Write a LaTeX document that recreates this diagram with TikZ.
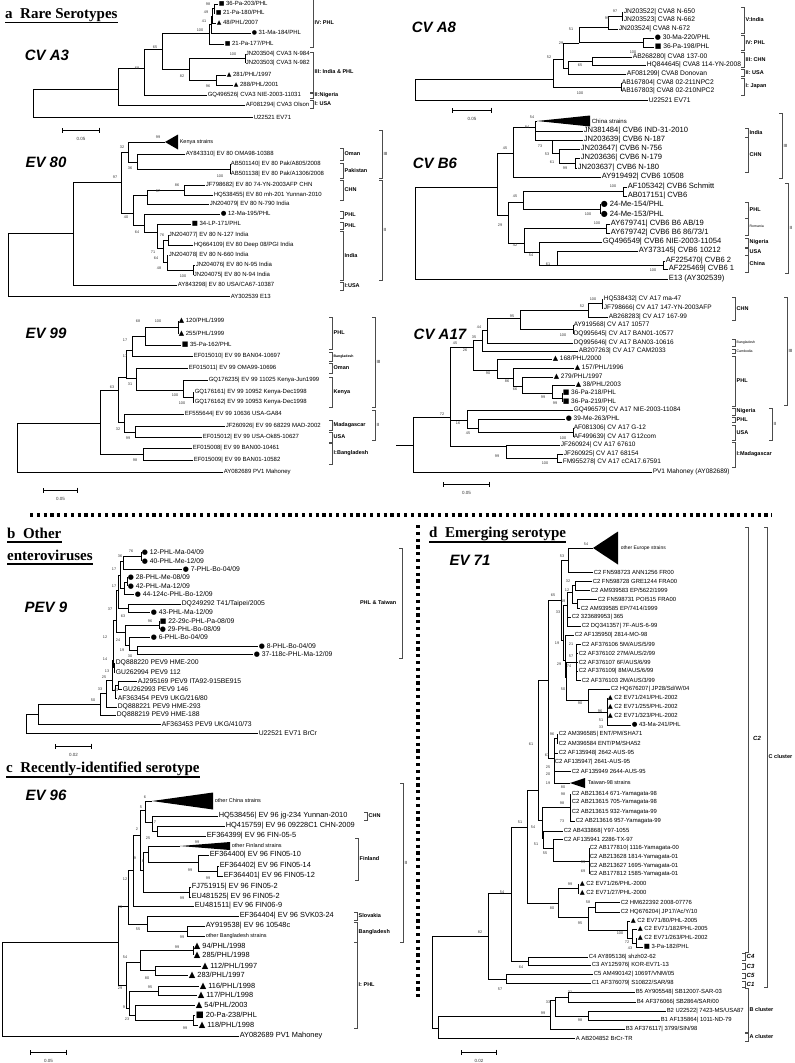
\documentclass[tikz,border=0pt]{standalone}
\usepackage{fontspec}
\setmainfont{Liberation Sans}
\newfontfamily\ser{Liberation Serif}
\newfontfamily\sym{DejaVu Sans}
\usetikzlibrary{arrows.meta}
\newcounter{nc}
\newcommand\fs[1]{\fontsize{#1}{#1}\selectfont}
\def\msz{6}
\newcommand\mtri{{\sym\fs{\msz}▲}}
\newcommand\mcir{{\sym\fs{\msz}●}}
\newcommand\msq{{\sym\fs{\msz}■}}
\newcommand\E[2]{\foreach \ch in {#2}{\draw[br] (#1) |- (\ch);}}
\newcommand\lf[4][]{\node[lab,#1] (#2) at (#3) {#4};}
\newcommand\bs[2]{\stepcounter{nc}\node[bsl] (bs\arabic{nc}) at (#1) {#2};}
\newcommand\brk[5][]{\stepcounter{nc}\draw[brk] (#2-3,#3) -- (#2,#3) -- (#2,#4) -- (#2-3,#4);\node[brl,#1] (br\arabic{nc}) at (#2+1.5,{(#3+#4)/2}) {#5};}
\newcommand\clade[4]{\coordinate (#1) at (#2);\fill (#1) -- ++(#3,-#4) -- ++(0,2*#4) -- cycle;}
\newcommand\sbar[4]{\stepcounter{nc}\draw[br,{Bar[width=5pt]}-{Bar[width=5pt]}] (#1,#3) -- (#2,#3);\node[bsl,font=\fs{4.5}] (sb\arabic{nc}) at ({(#1+#2)/2},#3+9) {#4};}
\tikzset{
 br/.style={draw=black,line width=0.85pt},
 lab/.style={anchor=west,inner sep=0.6pt,font=\fs{6}},
 bsl/.style={inner sep=0pt,font=\fs{3.8},text=black!80},
 brk/.style={draw=black!70,line width=0.7pt},
 brl/.style={anchor=west,inner sep=0pt,font=\bfseries\fs{5.5}},
 tname/.style={font=\bfseries\itshape\fs{15}},
 ttl/.style={anchor=base west,inner sep=0pt,font=\ser\bfseries\fs{15}},
 ul/.style={line width=1.3pt},
 dotsep/.style={line width=3.2pt,dash pattern=on 3.2pt off 3.6pt},
}
\begin{document}
\begin{tikzpicture}[x=1pt,y=-1pt]
\useasboundingbox (0,0) rectangle (795,1063);
\fill[white] (0,0) rectangle (795,1063);
% ---------- titles ----------
\node[ttl] (ta) at (5,18.5) {a\ \ Rare Serotypes};
\draw[ul] ([yshift=-4pt]ta.base west) -- ([yshift=-4pt]ta.base east);
\node[ttl] (tb) at (7,538.5) {b\ \ Other};
\draw[ul] ([yshift=-3.5pt]tb.base west) -- ([yshift=-3.5pt]tb.base east);
\node[ttl] (tb2) at (7,560.5) {enteroviruses};
\draw[ul] ([yshift=-3.5pt]tb2.base west) -- ([yshift=-3.5pt]tb2.base east);
\node[ttl] (tc) at (6,772) {c\ \ Recently-identified serotype};
\draw[ul] ([yshift=-5pt]tc.base west) -- ([yshift=-5pt]tc.base east);
\node[ttl] (td) at (429,537) {d\ \ Emerging serotype};
\draw[ul] ([yshift=-5pt]td.base west) -- ([yshift=-5pt]td.base east);
\node[tname] (nA3) at (47,55) {CV A3};
\node[tname] (nA8) at (434,27) {CV A8};
\node[tname] (n80) at (46,162) {EV 80};
\node[tname] (nB6) at (435,163) {CV B6};
\node[tname] (n99) at (46,333) {EV 99};
\node[tname] (nA17) at (440,334) {CV A17};
\node[tname] (nP9) at (46,607) {PEV 9};
\node[tname] (n96) at (46,795) {EV 96};
\node[tname] (n71) at (470,560) {EV 71};
% separators
\draw[dotsep] (30,515) -- (772,515);
\draw[dotsep] (418,525) -- (418,1000);

% ================= CV A3 =================
\begin{scope}[lab/.style={anchor=west,inner sep=0.6pt,font=\fs{6}}]
\def\msz{6}
\coordinate (a0) at (33,103);
\coordinate (a1) at (118,89);
\coordinate (a2) at (144,68);
\coordinate (a3) at (162,49);
\coordinate (a4) at (209,33);
\coordinate (a5) at (189,69);
\coordinate (a6) at (245,58);
\coordinate (a7) at (216,80);
\coordinate (a8) at (211,24);
\coordinate (a9) at (212,16);
\coordinate (a10) at (214,8);
\lf{aL1}{253,117}{U22521 EV71}
\lf{aL2}{245,105}{AF081294| CVA3 Olson}
\lf{aL3}{207,95}{GQ496526| CVA3 NIE-2003-11031}
\lf{aL4}{245,54}{JN203504| CVA3 N-984}
\lf{aL5}{245,63}{JN203503| CVA3 N-982}
\lf{aL6}{226,75}{\mtri\ 281/PHL/1997}
\lf{aL7}{233,85}{\mtri\ 288/PHL/2001}
\lf{aL8}{224,44}{\msq\ 21-Pa-177/PHL}
\lf{aL9}{251,33}{\mcir\ 31-Ma-184/PHL}
\lf{aL10}{216,23}{\mtri\ 48/PHL/2007}
\lf{aL11}{218,4}{\msq\ 36-Pa-203/PHL}
\lf{aL12}{215,13}{\msq\ 21-Pa-180/PHL}
\E{a0}{a1,aL1}\E{a1}{a2,aL2}\E{a2}{a3,aL3}\E{a3}{a4,a5}\E{a5}{a6,a7}
\E{a6}{aL4,aL5}\E{a7}{aL6,aL7}\E{a4}{a8,aL8}\E{a8}{a9,aL9}\E{a9}{a10,aL10}\E{a10}{aL11,aL12}
\bs{208,4}{98}\bs{206,12}{49}\bs{204,21}{41}\bs{200,30}{100}\bs{155,47}{65}\bs{137,68}{68}
\bs{233,54}{100}\bs{182,76}{82}\bs{208,86}{96}
\brk{313}{-2}{47}{IV: PHL}
\brk{313}{52}{92}{III: India \& PHL}
\brk{313}{93}{98}{II:Nigeria}
\brk{313}{100}{108}{I: USA}
\sbar{62}{100}{130}{0.05}
\end{scope}

% ================= CV A8 =================
\begin{scope}[lab/.style={anchor=west,inner sep=0.6pt,font=\fs{6.7}}]
\def\msz{7}
\coordinate (b0) at (415,89);
\coordinate (b1) at (553,79);
\coordinate (b2) at (563,59);
\coordinate (b2b) at (568,68);
\coordinate (b3) at (579,43);
\coordinate (b4) at (608,27);
\coordinate (b5) at (622,16);
\coordinate (b6) at (643,42);
\coordinate (b7) at (592,61);
\coordinate (b8) at (621,87);
\lf{bL1}{648,100}{U22521 EV71}
\lf{bL2}{623,12}{JN203522| CVA8 N-650}
\lf{bL3}{623,20}{JN203523| CVA8 N-662}
\lf{bL4}{618,29}{JN203524| CVA8 N-672}
\lf{bL5}{654,38}{\mcir\ 30-Ma-220/PHL}
\lf{bL6}{654,47}{\msq\ 36-Pa-198/PHL}
\lf{bL7}{632,57}{AB268280| CVA8 137-00}
\lf{bL8}{646,65}{HQ844645| CVA8 114-YN-2008}
\lf{bL9}{626,74}{AF081299| CVA8 Donovan}
\lf{bL10}{621,83}{AB167804| CVA8 02-211NPC2}
\lf{bL11}{621,91}{AB167803| CVA8 02-210NPC2}
\E{b0}{b1,bL1}\E{b1}{b2,b8}\E{b2}{b3,b2b}\E{b2b}{b7,bL9}\E{b7}{bL7,bL8}
\E{b3}{b4,b6}\E{b4}{b5,bL4}\E{b5}{bL2,bL3}\E{b6}{bL5,bL6}\E{b8}{bL10,bL11}
\bs{615,11}{97}\bs{607,18}{99}\bs{571,29}{51}\bs{561,43}{29}\bs{549,57}{52}\bs{580,65}{65}
\bs{633,52}{100}\bs{580,93}{100}
\brk{744}{7}{33}{V:India}
\brk{744}{35}{50}{IV: PHL}
\brk{744}{52}{67}{III: CHN}
\brk{744}{69}{76}{II: USA}
\brk{744}{78}{95}{I: Japan}
\sbar{452}{492}{110}{0.05}
\end{scope}

% ================= EV 80 =================
\begin{scope}[lab/.style={anchor=west,inner sep=0.6pt,font=\fs{6}}]
\def\msz{6.5}
\coordinate (c0) at (8,264);
\coordinate (c1) at (73,233);
\coordinate (c2) at (121,182);
\coordinate (ck) at (128,152);
\coordinate (com) at (137,162);
\coordinate (cpak) at (230,169);
\coordinate (c3) at (133,213);
\coordinate (ca) at (147,195);
\coordinate (cchn) at (184,190);
\coordinate (cb) at (144,225);
\coordinate (cc) at (157,232);
\coordinate (cd) at (163,248);
\coordinate (ce) at (168,240);
\coordinate (cf) at (167,262);
\coordinate (cg) at (193,270);
\clade{ck2}{165,142}{13}{7.5}
\lf[font=\fs{5.5}]{ckt}{179,142}{Kenya strains}
\lf{cL1}{230,296}{AY302539 E13}
\lf{cL2}{177,285}{AY843298| EV 80 USA/CA67-10387}
\lf{cL3}{185,154}{AY843310| EV 80 OMA98-10388}
\lf{cL4}{230,164}{AB501140| EV 80 Pak/A805/2008}
\lf{cL5}{230,174}{AB501138| EV 80 Pak/A1306/2008}
\lf{cL6}{205,185}{JF798682| EV 80 74-YN-2003AFP CHN}
\lf{cL7}{213,195}{HQ538455| EV 80 mh-201 Yunnan-2010}
\lf{cL8}{209,204}{JN204079| EV 80 N-790 India}
\lf{cL9}{220,214}{\mcir\ 12-Ma-195/PHL}
\lf{cL10}{191,224}{\msq\ 34-LP-171/PHL}
\lf{cL11}{168,235}{JN204077| EV 80 N-127 India}
\lf{cL12}{193,245}{HQ664109| EV 80 Deep 08/PGI India}
\lf{cL13}{168,255}{JN204078| EV 80 N-660 India}
\lf{cL14}{195,265}{JN204076| EV 80 N-95 India}
\lf{cL15}{193,275}{JN204075| EV 80 N-94 India}
\E{c0}{c1,cL1}\E{c1}{c2,cL2}\E{c2}{ck,c3}\E{ck}{ck2,com}\E{com}{cL3,cpak}\E{cpak}{cL4,cL5}
\E{c3}{ca,cb}\E{ca}{cchn,cL8}\E{cchn}{cL6,cL7}\E{cb}{cL9,cc}\E{cc}{cL10,cd}\E{cd}{ce,cf}
\E{ce}{cL11,cL12}\E{cf}{cL13,cg}\E{cg}{cL14,cL15}
\bs{158,137}{99}\bs{122,147}{32}\bs{130,168}{36}\bs{220,176}{100}\bs{115,177}{97}\bs{177,185}{86}
\bs{158,191}{97}\bs{126,217}{40}\bs{137,232}{64}\bs{153,252}{71}\bs{162,235}{76}\bs{156,258}{64}
\bs{159,268}{48}\bs{183,276}{100}
\brk{343}{148}{160}{Oman}
\brk{343}{163}{178}{Pakistan}
\brk{343}{180}{200}{CHN}
\brk{343}{211}{218}{PHL}
\brk{343}{222}{229}{PHL}
\brk{343}{231}{280}{India}
\brk{343}{282}{290}{I:USA}
\brk[font=\fs{4.5}]{382}{130}{178}{III}
\brk[font=\fs{4.5}]{382}{180}{280}{II}
\end{scope}

% ================= CV B6 =================
\begin{scope}[lab/.style={anchor=west,inner sep=0.6pt,font=\fs{7.6}}]
\def\msz{8}
\coordinate (d0) at (415,233);
\coordinate (d1) at (497,187);
\coordinate (d2) at (513,153);
\coordinate (d4) at (535,127);
\coordinate (d5) at (552,140);
\coordinate (d6) at (559,153);
\coordinate (d7) at (575,163);
\coordinate (d3) at (508,215);
\coordinate (d8) at (523,202);
\coordinate (d10) at (623,191);
\coordinate (dphl) at (600,209);
\coordinate (d9) at (524,243);
\coordinate (drom) at (606,228);
\coordinate (d11) at (539,252);
\coordinate (d12) at (557,265);
\coordinate (d13) at (663,265);
\clade{dc}{537,121}{53}{5.5}
\lf[font=\fs{6}]{dct}{591,121}{China strains}
\lf{dL1}{583,131}{JN381484| CVB6 IND-31-2010}
\lf{dL2}{583,140}{JN203639| CVB6 N-187}
\lf{dL3}{580,149}{JN203647| CVB6 N-756}
\lf{dL4}{580,158}{JN203636| CVB6 N-179}
\lf{dL5}{577,168}{JN203637| CVB6 N-180}
\lf{dL7}{601,177}{AY919492| CVB6 10508}
\lf{dL8}{627,187}{AF105342| CVB6 Schmitt}
\lf{dL9}{627,196}{AB017151| CVB6}
\lf{dL10}{600,204}{\mcir\ 24-Me-154/PHL}
\lf{dL11}{600,214}{\mcir\ 24-Me-153/PHL}
\lf{dL12}{610,224}{AY679741| CVB6 B6 AB/19}
\lf{dL13}{610,233}{AY679742| CVB6 B6 86/73/1}
\lf{dL14}{602,242}{GQ496549| CVB6 NIE-2003-11054}
\lf{dL15}{638,251}{AY373145| CVB6 10212}
\lf{dL16}{665,261}{AF225470| CVB6 2}
\lf{dL17}{668,269}{AF225469| CVB6 1}
\lf{dL18}{668,279}{E13 (AY302539)}
\E{d0}{d1,dL18}\E{d1}{d2,d3}\E{d2}{d4,dL7}\E{d4}{dc,dL1,d5}\E{d5}{dL2,d6}\E{d6}{dL3,d7}
\E{d7}{dL4,dL5}\E{d3}{d8,d9}\E{d8}{d10,dphl}\E{d10}{dL8,dL9}\E{dphl}{dL10,dL11}
\E{d9}{drom,d11}\E{drom}{dL12,dL13}\E{d11}{dL14,d12}\E{d12}{dL15,d13}\E{d13}{dL16,dL17}
\bs{532,117}{54}\bs{527,127}{84}\bs{505,148}{45}\bs{540,146}{73}\bs{547,154}{53}\bs{552,162}{61}
\bs{565,168}{99}\bs{613,186}{100}\bs{515,196}{45}\bs{588,214}{100}\bs{500,225}{29}\bs{597,223}{100}
\bs{515,245}{42}\bs{531,255}{54}\bs{548,264}{61}\bs{653,270}{100}
\brk{748}{128}{137}{India}
\brk{748}{137}{172}{CHN}
\brk{748}{202}{218}{PHL}
\brk[font=\fs{3.5}]{748}{218}{235}{Romania}
\brk{748}{238}{247}{Nigeria}
\brk{748}{248}{255}{USA}
\brk{748}{255}{272}{China}
\brk[font=\fs{4.5}]{782}{113}{178}{III}
\brk[font=\fs{4.5}]{788}{183}{273}{II}
\end{scope}

% ================= EV 99 =================
\begin{scope}[lab/.style={anchor=west,inner sep=0.6pt,font=\fs{6}}]
\def\msz{7}
\coordinate (f0) at (17,447);
\coordinate (f1) at (100,423);
\coordinate (f2) at (118,390);
\coordinate (f3) at (126,377);
\coordinate (f5) at (132,350);
\coordinate (fphl) at (145,336);
\coordinate (fphl2) at (178,327);
\coordinate (fkom) at (136,378);
\coordinate (fken) at (183,390);
\coordinate (fken2) at (193,397);
\coordinate (f4) at (124,422);
\coordinate (fmu) at (135,432);
\coordinate (fban) at (143,454);
\lf{fL1}{178,321}{\mtri\ 120/PHL/1999}
\lf{fL2}{178,334}{\mtri\ 255/PHL/1999}
\lf{fL3}{181,345}{\msq\ 35-Pa-162/PHL}
\lf{fL4}{193,356}{EF015010| EV 99 BAN04-10697}
\lf{fL5}{188,368}{EF015011| EV 99 OMA99-10696}
\lf{fL6}{208,380}{GQ176235| EV 99 11025 Kenya-Jun1999}
\lf{fL7}{194,392}{GQ176161| EV 99 10952 Kenya-Dec1998}
\lf{fL8}{194,402}{GQ176162| EV 99 10953 Kenya-Dec1998}
\lf{fL9}{184,414}{EF555644| EV 99 10636 USA-GA84}
\lf{fL10}{225,426}{JF260926| EV 99 68229 MAD-2002}
\lf{fL11}{202,437}{EF015012| EV 99 USA-Ok85-10627}
\lf{fL12}{192,448}{EF015008| EV 99 BAN00-10461}
\lf{fL13}{193,460}{EF015009| EV 99 BAN01-10582}
\lf{fL14}{223,472}{AY082689 PV1 Mahoney}
\E{f0}{f1,fL14}\E{f1}{f2,fban}\E{f2}{f3,f4}\E{f3}{f5,fkom}\E{f5}{fphl,fL4}\E{fphl}{fphl2,fL3}
\E{fphl2}{fL1,fL2}\E{fkom}{fL5,fken}\E{fken}{fL6,fken2}\E{fken2}{fL7,fL8}\E{f4}{fL9,fmu}
\E{fmu}{fL10,fL11}\E{fban}{fL12,fL13}
\bs{138,321}{68}\bs{158,321}{100}\bs{125,340}{17}\bs{125,356}{17}\bs{130,384}{31}\bs{175,395}{100}
\bs{182,403}{100}\bs{112,387}{63}\bs{118,429}{32}\bs{128,438}{99}\bs{135,460}{98}
\brk{332}{317}{349}{PHL}
\brk[font=\bfseries\fs{3.5}]{332}{352}{361}{Bangladesh}
\brk{332}{363}{373}{Oman}
\brk{332}{377}{407}{Kenya}
\brk{332}{420}{430}{Madagascar}
\brk{332}{432}{442}{USA}
\brk{332}{443}{464}{I:Bangladesh}
\brk[font=\fs{4.5}]{375}{317}{407}{III}
\brk[font=\fs{4.5}]{375}{410}{440}{II}
\sbar{43}{78}{490}{0.05}
\end{scope}

% ================= CV A17 =================
\begin{scope}[lab/.style={anchor=west,inner sep=0.6pt,font=\fs{6.5}}]
\def\msz{7}
\coordinate (e0s) at (396,445);
\coordinate (e0) at (413,445);
\coordinate (eX) at (450,417);
\coordinate (e26) at (473,347);
\coordinate (e35) at (482,340);
\coordinate (e44) at (487,330);
\coordinate (e95) at (520,318);
\coordinate (e52) at (588,310);
\coordinate (echn) at (602,303);
\coordinate (e100b) at (573,329);
\coordinate (ephl) at (497,370);
\coordinate (e86) at (513,378);
\coordinate (e66) at (522,386);
\coordinate (e99) at (552,393);
\coordinate (e99b) at (562,398);
\coordinate (e16) at (467,420);
\coordinate (e45b) at (478,428);
\coordinate (eusa) at (573,432);
\coordinate (emad) at (506,446);
\coordinate (emad2) at (557,458);
\lf{eL1}{603,299}{HQ538432| CV A17 ma-47}
\lf{eL2}{603,308}{JF798666| CV A17 147-YN-2003AFP}
\lf{eL3}{608,317}{AB268283| CV A17 167-99}
\lf{eL4}{573,325}{AY919568| CV A17 10577}
\lf{eL5}{573,334}{DQ995645| CV A17 BAN01-10577}
\lf{eL6}{573,343}{DQ995646| CV A17 BAN03-10616}
\lf{eL7}{578,351}{AB207263| CV A17 CAM2033}
\lf{eL8}{552,359}{\mtri\ 168/PHL/2000}
\lf{eL9}{574,368}{\mtri\ 157/PHL/1996}
\lf{eL10}{553,377}{\mtri\ 279/PHL/1997}
\lf{eL11}{575,385}{\mtri\ 38/PHL/2003}
\lf{eL12}{562,393}{\msq\ 36-Pa-218/PHL}
\lf{eL13}{562,402}{\msq\ 36-Pa-219/PHL}
\lf{eL14}{573,410}{GQ496579| CV A17 NIE-2003-11084}
\lf{eL15}{565,419}{\mcir\ 39-Me-263/PHL}
\lf{eL16}{573,428}{AF081306| CV A17 G-12}
\lf{eL17}{573,437}{AF499639| CV A17 G12com}
\lf{eL18}{560,445}{JF260924| CV A17 67610}
\lf{eL19}{563,454}{JF260925| CV A17 68154}
\lf{eL20}{562,462}{FM955278| CV A17 cCA17.67591}
\lf{eL21}{652,472}{PV1 Mahoney (AY082689)}
\draw[br] (e0s) -- (e0);
\E{e0}{eX,eL21}\E{eX}{e26,e16,emad}\E{e26}{e35,ephl}\E{e35}{e44,eL7}\E{e44}{e95,eL6}
\E{e95}{e52,e100b}\E{e52}{echn,eL3}\E{echn}{eL1,eL2}\E{e100b}{eL4,eL5}
\E{ephl}{eL8,e86}\E{e86}{eL9,e66}\E{e66}{eL10,e99}\E{e99}{eL11,e99b}\E{e99b}{eL12,eL13}
\E{e16}{eL14,e45b}\E{e45b}{eL15,eusa}\E{eusa}{eL16,eL17}\E{emad}{eL18,emad2}\E{emad2}{eL19,eL20}
\bs{593,299}{100}\bs{582,306}{52}\bs{512,316}{95}\bs{563,335}{100}\bs{479,327}{44}\bs{474,337}{35}
\bs{465,350}{26}\bs{455,343}{45}\bs{488,373}{90}\bs{507,381}{86}\bs{515,389}{66}\bs{543,397}{99}
\bs{555,403}{99}\bs{458,423}{16}\bs{468,433}{45}\bs{563,438}{100}\bs{442,414}{72}\bs{497,456}{99}
\bs{545,463}{100}
\brk{735}{297}{320}{CHN}
\brk[font=\fs{3.5}]{735}{339}{346}{Bangladesh}
\brk[font=\fs{3.5}]{735}{349}{353}{Cambodia}
\brk{735}{356}{406}{PHL}
\brk{735}{408}{415}{Nigeria}
\brk{735}{417}{422}{PHL}
\brk{735}{425}{440}{USA}
\brk{735}{442}{467}{I:Madagascar}
\brk[font=\fs{4.5}]{787}{297}{405}{III}
\brk[font=\fs{4.5}]{772}{408}{440}{II}
\sbar{443}{490}{484}{0.05}
\end{scope}

% ================= PEV 9 =================
\begin{scope}[lab/.style={anchor=west,inner sep=0.6pt,font=\fs{6.8}}]
\def\msz{7}
\coordinate (g0) at (26,723);
\coordinate (gr1) at (38,714);
\coordinate (g50) at (100,704);
\coordinate (g33) at (106,693);
\coordinate (g25) at (112,680);
\coordinate (g41b) at (115,690);
\coordinate (g41) at (118,685);
\coordinate (g14) at (113,660);
\coordinate (g13) at (114,667);
\coordinate (gl) at (116,620);
\coordinate (gg) at (118,590);
\coordinate (ge) at (120,575);
\coordinate (gb) at (123,561);
\coordinate (ga) at (141,556);
\coordinate (gd) at (124,588);
\coordinate (gc) at (127,582);
\coordinate (gf) at (128,608);
\coordinate (gi) at (125,632);
\coordinate (gh) at (159,625);
\coordinate (gj) at (129,645);
\coordinate (gk) at (137,650);
\lf{gL1}{141,552}{\mcir\ 12-PHL-Ma-04/09}
\lf{gL2}{141,561}{\mcir\ 40-PHL-Me-12/09}
\lf{gL3}{182,569}{\mcir\ 7-PHL-Bo-04/09}
\lf{gL4}{127,577}{\mcir\ 28-PHL-Me-08/09}
\lf{gL5}{127,586}{\mcir\ 42-PHL-Ma-12/09}
\lf{gL6}{134,594}{\mcir\ 44-124c-PHL-Bo-12/09}
\lf{gL7}{181,604}{DQ249292 T41/Taipei/2005}
\lf{gL8}{150,612}{\mcir\ 43-PHL-Ma-12/09}
\lf{gL9}{159,621}{\msq\ 22-29c-PHL-Pa-08/09}
\lf{gL10}{159,629}{\mcir\ 29-PHL-Bo-08/09}
\lf{gL11}{150,637}{\mcir\ 6-PHL-Bo-04/09}
\lf{gL12}{258,646}{\mcir\ 8-PHL-Bo-04/09}
\lf{gL13}{253,654}{\mcir\ 37-118c-PHL-Ma-12/09}
\lf{gL14}{115,663}{DQ888220 PEV9 HME-200}
\lf{gL15}{115,672}{GU262994 PEV9 112}
\lf{gL16}{137,681}{AJ295169 PEV9 ITA92-915BE915}
\lf{gL17}{122,689}{GU262993 PEV9 146}
\lf{gL18}{117,698}{AF363454 PEV9 UKG/216/80}
\lf{gL19}{117,707}{DQ888221 PEV9 HME-293}
\lf{gL20}{116,715}{DQ888219 PEV9 HME-188}
\lf{gL21}{161,724}{AF363453 PEV9 UKG/410/73}
\lf{gL22}{258,733}{U22521 EV71 BrCr}
\E{g0}{gr1,gL22}\E{gr1}{g50,gL21}\E{g50}{g33,gL20}\E{g33}{g25,gL19}\E{g25}{g14,g41b}
\E{g41b}{g41,gL18}\E{g41}{gL16,gL17}\E{g14}{gl,g13}\E{g13}{gL14,gL15}\E{gl}{gg,gi}
\E{gg}{ge,gf}\E{ge}{gb,gd}\E{gb}{ga,gL3}\E{ga}{gL1,gL2}\E{gd}{gc,gL6}\E{gc}{gL4,gL5}
\E{gf}{gL7,gL8}\E{gi}{gh,gj}\E{gh}{gL9,gL10}\E{gj}{gL11,gk}\E{gk}{gL12,gL13}
\bs{131,551}{76}\bs{120,556}{36}\bs{114,569}{17}\bs{114,586}{17}\bs{110,609}{37}\bs{123,616}{63}
\bs{105,637}{12}\bs{118,640}{24}\bs{150,621}{96}\bs{122,650}{19}\bs{130,656}{30}\bs{105,659}{14}
\bs{107,671}{13}\bs{104,677}{25}\bs{116,690}{41}\bs{100,689}{33}\bs{93,700}{50}
\brk[anchor=east,xshift=-7pt]{402}{548}{658}{PHL \& Taiwan}
\sbar{55}{92}{746}{0.02}
\end{scope}

% ================= EV 96 =================
\begin{scope}[lab/.style={anchor=west,inner sep=0.6pt,font=\fs{7.4}}]
\def\msz{8.5}
\coordinate (h0) at (2,989);
\coordinate (hbig) at (118,942);
\coordinate (htop) at (128,906);
\coordinate (h12) at (133,870);
\coordinate (h2) at (140,835);
\coordinate (h5) at (145,810);
\coordinate (hx) at (152,822);
\coordinate (h7) at (157,831);
\coordinate (h9) at (143,870);
\coordinate (hfin) at (148,852);
\coordinate (h99) at (198,862);
\coordinate (h99b) at (217,871);
\coordinate (hfj) at (189,892);
\coordinate (hsb) at (147,924);
\coordinate (hbd) at (187,931);
\coordinate (hbot) at (126,985);
\coordinate (h54) at (140,962);
\coordinate (h94) at (193,950);
\coordinate (h80) at (155,970);
\coordinate (h9b) at (129,1008);
\coordinate (h95) at (158,991);
\coordinate (h23) at (135,1015);
\coordinate (h99c) at (193,1020);
\clade{hchina}{152,801}{61}{8.5}
\lf[font=\fs{5.5}]{hchinat}{214,801}{other China strains}
\clade{hfint}{180,846}{50}{4}
\lf[font=\fs{5.5}]{hfintt}{231,846}{other Finland strains}
\lf{hL1}{218,816}{HQ538456| EV 96 jg-234 Yunnan-2010}
\lf{hL2}{225,826}{HQ415759| EV 96 09228C1 CHN-2009}
\lf{hL3}{206,836}{EF364399| EV 96 FIN-05-5}
\lf{hL4}{209,855}{EF364400| EV 96 FIN05-10}
\lf{hL5}{219,866}{EF364402| EV 96 FIN05-14}
\lf{hL6}{223,876}{EF364401| EV 96 FIN05-12}
\lf{hL7}{191,887}{FJ751915| EV 96 FIN05-2}
\lf{hL8}{191,897}{EU481525| EV 96 FIN05-2}
\lf{hL9}{194,906}{EU481511| EV 96 FIN06-9}
\lf{hL10}{239,916}{EF364404| EV 96 SVK03-24}
\lf{hL11}{205,926}{AY919538| EV 96 10548c}
\lf[font=\fs{5.5}]{hL12}{205,936}{other Bangladesh strains}
\lf{hL13}{193,946}{\mtri\ 94/PHL/1998}
\lf{hL14}{193,955}{\mtri\ 285/PHL/1998}
\lf{hL15}{201,966}{\mtri\ 112/PHL/1997}
\lf{hL16}{188,975}{\mtri\ 283/PHL/1997}
\lf{hL17}{199,986}{\mtri\ 116/PHL/1998}
\lf{hL18}{197,995}{\mtri\ 117/PHL/1998}
\lf{hL19}{195,1005}{\mtri\ 54/PHL/2003}
\lf{hL20}{195,1015}{\msq\ 20-Pa-238/PHL}
\lf{hL21}{198,1025}{\mtri\ 118/PHL/1998}
\lf{hL22}{239,1036}{AY082689 PV1 Mahoney}
\E{h0}{hbig,hL22}\E{hbig}{htop,hbot}\E{htop}{h12,hsb}\E{h12}{h2,hL9}\E{h2}{h5,h9}
\E{h5}{hchina,hx}\E{hx}{hL1,h7}\E{h7}{hL2,hL3}\E{h9}{hfin,hfj}\E{hfin}{hfint,h99}
\E{h99}{hL4,h99b}\E{h99b}{hL5,hL6}\E{hfj}{hL7,hL8}\E{hsb}{hL10,hbd}\E{hbd}{hL11,hL12}
\E{hbot}{h54,h9b}\E{h54}{h94,h80}\E{h94}{hL13,hL14}\E{h80}{hL15,hL16}\E{h9b}{h95,h23}
\E{h95}{hL17,hL18}\E{h23}{hL19,h99c}\E{h99c}{hL20,hL21}
\bs{145,797}{6}\bs{141,807}{5}\bs{155,822}{7}\bs{148,838}{25}\bs{137,829}{2}\bs{197,842}{99}
\bs{135,858}{9}\bs{143,861}{8}\bs{190,870}{99}\bs{208,878}{99}\bs{125,879}{12}\bs{182,898}{99}
\bs{120,907}{23}\bs{138,929}{55}\bs{182,937}{99}\bs{177,947}{99}\bs{125,957}{54}\bs{147,978}{80}
\bs{120,988}{29}\bs{150,987}{95}\bs{124,1007}{9}\bs{127,1019}{23}\bs{185,1028}{99}
\brk{367}{812}{820}{CHN}
\brk{358}{838}{880}{Finland}
\brk{357}{912}{920}{Slovakia}
\brk{357}{922}{942}{Bangladesh}
\brk{357}{942}{1028}{I: PHL}
\brk[font=\fs{4.5}]{403}{783}{942}{II}
\sbar{30}{67}{1052}{0.05}
\end{scope}

% ================= EV 71 =================
\begin{scope}[lab/.style={anchor=west,inner sep=0.6pt,font=\fs{5.9}}]
\def\msz{6.5}
\coordinate (j0) at (432,982);
\coordinate (jB) at (438,1028);
\coordinate (j99B) at (550,1016);
\coordinate (j33b) at (555,1000);
\coordinate (j31) at (568,997);
\coordinate (j98) at (588,1016);
\coordinate (j82) at (488,936);
\coordinate (j57) at (506,979);
\coordinate (j54) at (511,893);
\coordinate (j64) at (528,961);
\coordinate (j51) at (527,827);
\coordinate (j80) at (558,903);
\coordinate (j99P) at (578,888);
\coordinate (j95) at (588,917);
\coordinate (j58) at (595,907);
\coordinate (j100) at (627,930);
\coordinate (j72) at (632,938);
\coordinate (j43) at (636,943);
\coordinate (j61) at (538,790);
\coordinate (j65) at (548,680);
\coordinate (jE) at (561,600);
\coordinate (j53) at (568,560);
\coordinate (j33) at (563,640);
\coordinate (j49) at (567,605);
\coordinate (j12) at (572,592);
\coordinate (j32) at (575,585);
\coordinate (jPOI) at (577,603);
\coordinate (j19) at (565,660);
\coordinate (j29) at (566,677);
\coordinate (jAUS) at (576,662);
\coordinate (j90) at (588,700);
\coordinate (j96) at (607,712);
\coordinate (jSHA) at (554,758);
\coordinate (jSHA2) at (557,738);
\coordinate (jyam) at (542,820);
\coordinate (jY) at (570,807);
\coordinate (j51b) at (543,838);
\coordinate (j55) at (553,848);
\coordinate (j99Y) at (589,861);
\clade{jeu}{593,548}{25}{16.5}
\lf[font=\fs{5}]{jeut}{620,548}{other Europe strains}
\clade{jtw}{570,783}{15}{5}
\lf[font=\fs{5.5}]{jtwt}{587,783}{Taiwan-98 strains}
\lf{jL1}{593,572}{C2 FN598723 ANN1256 FR00}
\lf{jL2}{592,581}{C2 FN598728 GRE1244 FRA00}
\lf{jL3}{590,590}{C2 AM939583 EP/5622/1999}
\lf{jL4}{597,599}{C2 FN598731 POI515 FRA00}
\lf{jL5}{580,608}{C2 AM939585 EP/7414/1999}
\lf{jL6}{571,617}{C2 323689953| 365}
\lf{jL7}{581,626}{C2 DQ341357| 7F-AUS-6-99}
\lf{jL8}{574,635}{C2 AF135950| 2814-MO-98}
\lf{jL9}{581,644}{C2 AF376106 5M/AUS/5/99}
\lf{jL10}{578,653}{C2 AF376102 27M/AUS/2/99}
\lf{jL11}{578,662}{C2 AF376107 6F/AUS/6/99}
\lf{jL12}{578,671}{C2 AF376109| 8M/AUS/6/99}
\lf{jL13}{581,680}{C2 AF376103 2M/AUS/3/99}
\lf{jL14}{610,689}{C2 HQ676207| JP28/Sd/W/04}
\lf{jL15}{607,698}{\mtri\ C2 EV71/241/PHL-2002}
\lf{jL16}{607,707}{\mtri\ C2 EV71/255/PHL-2002}
\lf{jL17}{607,716}{\mtri\ C2 EV71/323/PHL-2002}
\lf{jL18}{631,725}{\mcir\ 43-Ma-241/PHL}
\lf{jL19}{558,734}{C2 AM396585| ENT/PM/SHA71}
\lf{jL20}{558,743}{C2 AM396584 ENT/PM/SHA52}
\lf{jL21}{558,753}{C2 AF135948| 2642-AUS-95}
\lf{jL22}{554,762}{C2 AF135947| 2641-AUS-95}
\lf{jL23}{571,771}{C2 AF135949 2644-AUS-95}
\lf{jL24}{571,794}{C2 AB213614 671-Yamagata-98}
\lf{jL25}{571,802}{C2 AB213615 705-Yamagata-98}
\lf{jL26}{571,812}{C2 AB213615 932-Yamagata-99}
\lf{jL27}{575,821}{C2 AB213616 957-Yamagata-99}
\lf{jL28}{563,831}{C2 AB433868| Y97-1055}
\lf{jL29}{563,839}{C2 AF135941 2286-TX-97}
\lf{jL30}{589,848}{C2 AB177810| 1116-Yamagata-00}
\lf{jL31}{589,857}{C2 AB213628 1814-Yamagata-01}
\lf{jL32}{589,866}{C2 AB213627 1695-Yamagata-01}
\lf{jL33}{589,874}{C2 AB177812 1585-Yamagata-01}
\lf{jL34}{579,884}{\mtri\ C2 EV71/26/PHL-2000}
\lf{jL35}{579,893}{\mtri\ C2 EV71/27/PHL-2000}
\lf{jL36}{620,902}{C2 HM622392 2008-07776}
\lf{jL37}{620,912}{C2 HQ676204| JP17/Ac/Y/10}
\lf{jL38}{630,921}{\mtri\ C2 EV71/80/PHL-2005}
\lf{jL39}{637,929}{\mtri\ C2 EV71/182/PHL-2005}
\lf{jL40}{637,938}{\mtri\ C2 EV71/263/PHL-2002}
\lf{jL41}{643,947}{\msq\ 3-Pa-182/PHL}
\lf{jL42}{588,957}{C4 AY895136| shzh02-62}
\lf{jL43}{591,965}{C3 AY125976| KOR-EV71-13}
\lf{jL44}{593,974}{C5 AM490142| 1069T/VNM/05}
\lf{jL45}{591,983}{C1 AF376079| S10822/SAR/98}
\lf{jL46}{635,992}{B5 AY905548| SB12007-SAR-03}
\lf{jL47}{636,1002}{B4 AF376066| SB2864/SAR/00}
\lf{jL48}{666,1011}{B2 U22522| 7423-MS/USA87}
\lf{jL49}{660,1020}{B1 AF135864| 1011-ND-79}
\lf{jL50}{625,1029}{B3 AF376117| 3799/SIN/98}
\lf{jL51}{575,1038}{A AB204852 BrCr-TR}
\E{j0}{j82,jB}\E{jB}{j99B,jL51}\E{j99B}{j33b,jL50}\E{j33b}{j31,j98}\E{j31}{jL46,jL47}
\E{j98}{jL48,jL49}\E{j82}{j54,j57}\E{j57}{jL44,jL45}\E{j54}{j51,j64}\E{j64}{jL42,jL43}
\E{j51}{j61,j80}\E{j80}{j99P,j95}\E{j99P}{jL34,jL35}\E{j95}{j58,j100}\E{j58}{jL36,jL37}
\E{j100}{jL38,j72}\E{j72}{jL39,j43}\E{j43}{jL40,jL41}
\E{j61}{j65,jyam}\E{j65}{jE,jSHA}\E{jE}{j53,j33}\E{j53}{jeu,jL1}\E{j33}{j49,j19}
\E{j49}{j12,jL6,jL7}\E{j12}{j32,jPOI}\E{j32}{jL2,jL3}\E{jPOI}{jL4,jL5}\E{j19}{jL8,j29}
\E{j29}{jAUS,j90}\E{jAUS}{jL9,jL10,jL11,jL12,jL13}\E{j90}{jL14,j96}\E{j96}{jL15,jL16,jL17,jL18}
\E{jSHA}{jSHA2,jL21,jL22,jL23,jtw}\E{jSHA2}{jL19,jL20}
\E{jyam}{jY,j51b}\E{jY}{jL24,jL25,jL26,jL27}\E{j51b}{jL28,j55}\E{j55}{jL29,j99Y}
\E{j99Y}{jL30,jL31,jL32,jL33}
\bs{586,544}{54}\bs{562,556}{53}\bs{568,581}{32}\bs{567,590}{12}\bs{563,601}{49}\bs{553,595}{65}
\bs{558,612}{33}\bs{557,643}{19}\bs{571,644}{21}\bs{571,656}{57}\bs{569,666}{74}\bs{559,664}{29}
\bs{563,689}{50}\bs{580,703}{90}\bs{600,711}{96}\bs{601,720}{51}\bs{601,727}{33}\bs{552,734}{96}
\bs{547,755}{67}\bs{548,767}{25}\bs{548,774}{20}\bs{548,783}{19}\bs{563,787}{80}\bs{563,794}{98}
\bs{562,803}{98}\bs{562,821}{73}\bs{531,744}{61}\bs{533,827}{54}\bs{536,844}{51}\bs{545,853}{55}
\bs{583,862}{99}\bs{583,871}{69}\bs{520,822}{51}\bs{570,884}{99}\bs{588,902}{58}\bs{552,908}{80}
\bs{580,923}{95}\bs{620,933}{100}\bs{627,942}{72}\bs{630,948}{43}\bs{502,892}{54}\bs{480,932}{82}
\bs{521,967}{64}\bs{500,989}{57}\bs{570,992}{31}\bs{548,1002}{33}\bs{543,1013}{99}\bs{580,1020}{98}
\brk[font=\fs{1}]{748}{527}{952}{}
\node[brl,font=\bfseries\itshape\fs{6}] (lC2) at (753,738) {C2};
\brk[font=\bfseries\itshape\fs{6}]{745}{953}{960}{C4}
\brk[font=\bfseries\itshape\fs{6}]{745}{963}{969}{C3}
\brk[font=\bfseries\itshape\fs{6}]{745}{973}{978}{C5}
\brk[font=\bfseries\itshape\fs{6}]{745}{981}{987}{C1}
\brk{767}{527}{987}{C cluster}
\brk{748}{988}{1032}{B cluster}
\brk{748}{1033}{1041}{A cluster}
\sbar{461}{497}{1052}{0.02}
\end{scope}
\end{tikzpicture}
\end{document}
